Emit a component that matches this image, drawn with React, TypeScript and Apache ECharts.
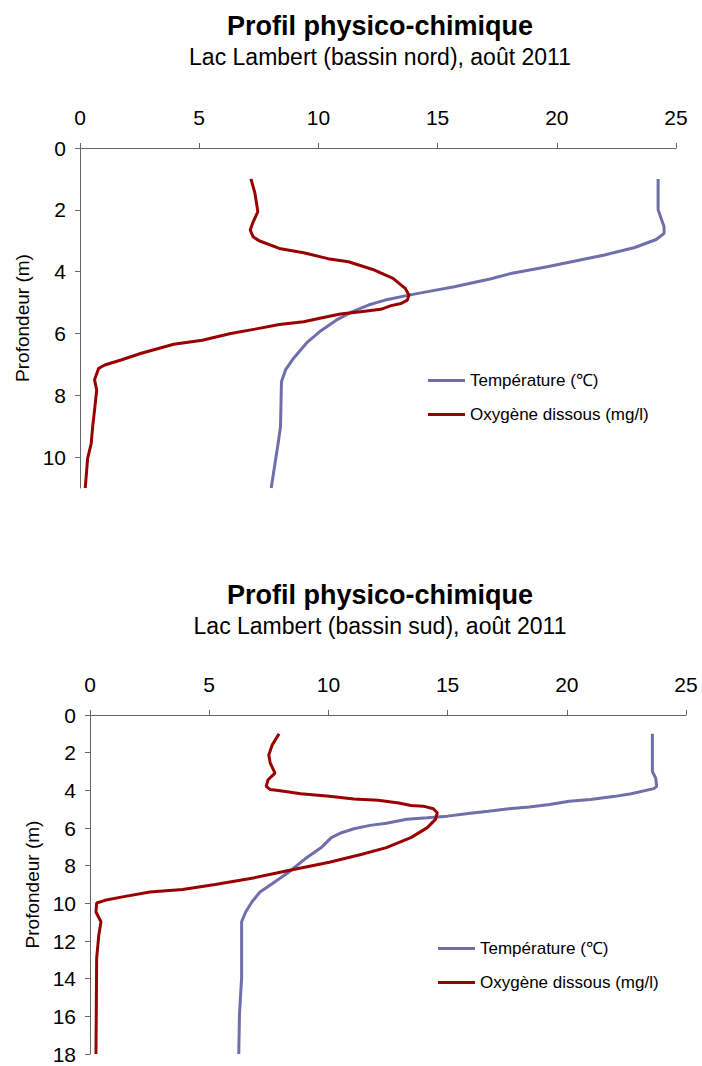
import React, { useEffect, useRef } from "react";
import * as echarts from "echarts";

const TEMP_NAME = "Température (℃)";
const OXY_NAME = "Oxygène dissous (mg/l)";
const xTicks = [0, 5, 10, 15, 20, 25];

// Bassin nord: [value, depth (m)]
const nordTemp: [number, number][] = [
  [24.25, 1.0], [24.25, 2.0], [24.5, 2.55], [24.5, 2.76], [24.17, 2.96], [23.27, 3.22],
  [22.0, 3.46], [19.6, 3.84], [18.07, 4.06], [17.2, 4.24], [15.7, 4.49], [14.7, 4.63],
  [13.8, 4.76], [12.8, 4.92], [12.1, 5.08], [11.4, 5.3], [10.75, 5.57], [10.06, 5.94],
  [9.55, 6.27], [8.96, 6.8], [8.62, 7.18], [8.45, 7.56], [8.41, 9.02], [8.31, 9.56],
  [8.02, 11.0],
];
const nordOxy: [number, number][] = [
  [7.17, 1.0], [7.34, 1.47], [7.46, 2.06], [7.27, 2.38], [7.14, 2.65], [7.26, 2.87],
  [7.51, 3.0], [8.36, 3.25], [9.38, 3.39], [10.4, 3.58], [11.26, 3.68], [12.28, 3.93],
  [13.13, 4.22], [13.64, 4.54], [13.8, 4.76], [13.73, 4.92], [13.47, 5.03], [13.05, 5.1],
  [12.62, 5.22], [11.77, 5.3], [10.92, 5.37], [10.06, 5.51], [9.38, 5.62], [8.36, 5.71],
  [7.34, 5.86], [6.32, 6.0], [5.13, 6.22], [3.93, 6.35], [2.57, 6.64], [1.72, 6.86],
  [1.04, 7.02], [0.78, 7.13], [0.61, 7.5], [0.7, 7.83], [0.61, 8.48], [0.53, 9.02],
  [0.47, 9.56], [0.32, 10.04], [0.22, 11.0],
];

// Bassin sud: [value, depth (m)]
const sudTemp: [number, number][] = [
  [23.59, 1.0], [23.59, 3.0], [23.73, 3.35], [23.77, 3.79], [23.65, 3.91], [22.7, 4.18],
  [22.02, 4.32], [21.0, 4.49], [20.1, 4.58], [19.28, 4.75], [18.42, 4.88], [17.57, 4.98],
  [16.71, 5.11], [15.86, 5.23], [15.0, 5.37], [14.15, 5.46], [13.29, 5.54], [12.43, 5.75],
  [11.75, 5.86], [11.07, 6.04], [10.55, 6.25], [10.12, 6.51], [9.7, 7.04], [9.01, 7.65],
  [8.33, 8.35], [7.64, 8.96], [7.13, 9.4], [6.79, 9.93], [6.53, 10.46], [6.36, 10.98],
  [6.36, 13.96], [6.27, 15.9], [6.24, 18.0],
];
const sudOxy: [number, number][] = [
  [7.93, 1.0], [7.64, 1.6], [7.5, 2.12], [7.56, 2.56], [7.76, 3.09], [7.47, 3.44],
  [7.39, 3.79], [7.56, 3.96], [7.98, 4.02], [8.84, 4.18], [10.04, 4.32], [11.07, 4.46],
  [12.09, 4.53], [12.95, 4.67], [13.46, 4.81], [13.98, 4.84], [14.4, 4.98], [14.57, 5.19],
  [14.49, 5.54], [14.15, 5.98], [13.46, 6.51], [12.43, 7.04], [11.41, 7.39], [10.04, 7.82],
  [8.33, 8.26], [6.79, 8.67], [5.25, 9.0], [3.88, 9.26], [2.51, 9.4], [1.31, 9.67],
  [0.63, 9.84], [0.28, 9.98], [0.25, 10.46], [0.46, 10.98], [0.37, 11.68], [0.28, 12.91],
  [0.25, 18.0],
];
const nordDepthTicks = [0, 2, 4, 6, 8, 10];
const sudDepthTicks = [0, 2, 4, 6, 8, 10, 12, 14, 16, 18];

const FONT = "'Liberation Sans', Arial, Helvetica, sans-serif";
const AXIS_COLOR = "#666666";
const TEMP_COLOR = "#6F6FAA";
const OXY_COLOR = "#990000";

export default function App() {
  const ref = useRef<HTMLDivElement>(null);
  useEffect(() => {
    document.body.style.margin = "0";
    if (!ref.current) return;
    const chart = echarts.init(ref.current, null, { renderer: "svg" });

    const xAxisBase = (gridIndex: number) => ({
      type: "value",
      gridIndex,
      position: "top",
      min: 0,
      max: 25,
      interval: 5,
      splitLine: { show: false },
      axisLine: { show: true, lineStyle: { color: AXIS_COLOR, width: 1 } },
      axisTick: { show: true, length: 5, lineStyle: { color: AXIS_COLOR } },
      axisLabel: { color: "#000", fontSize: 21, fontFamily: FONT, margin: 20, customValues: xTicks },
    });
    const yAxisBase = (gridIndex: number, max: number, ticks: number[]) => ({
      type: "value",
      gridIndex,
      inverse: true,
      min: 0,
      max,
      interval: 2,
      name: "Profondeur (m)",
      nameLocation: "middle",
      nameGap: 47,
      nameTextStyle: { color: "#000", fontSize: 19, fontFamily: FONT },
      splitLine: { show: false },
      axisLine: { show: true, lineStyle: { color: AXIS_COLOR, width: 1 } },
      axisTick: { show: true, length: 5, lineStyle: { color: AXIS_COLOR }, customValues: ticks },
      axisLabel: { color: "#000", fontSize: 21, fontFamily: FONT, margin: 14, customValues: ticks },
    });

    const lineSeries = (name: string, data: [number, number][], idx: number, color: string, width: number) => ({
      type: "line",
      name,
      xAxisIndex: idx,
      yAxisIndex: idx,
      data,
      showSymbol: false,
      symbol: "none",
      lineStyle: { color, width },
      itemStyle: { color },
    });

    const titleCommon = {
      left: 380,
      textAlign: "center",
      itemGap: 6,
      padding: 0,
      textStyle: { color: "#000", fontSize: 27, fontWeight: "bold", fontFamily: FONT },
      subtextStyle: { color: "#000", fontSize: 23, fontFamily: FONT },
    };
    const legendCommon = {
      orient: "vertical",
      itemWidth: 37,
      itemHeight: 3,
      itemGap: 17,
      padding: 0,
      icon: "rect",
      textStyle: { color: "#000", fontSize: 17, fontFamily: FONT },
      data: [TEMP_NAME, OXY_NAME],
    };

    chart.setOption({
      animation: false,
      backgroundColor: "#ffffff",
      title: [
        { ...titleCommon, top: 12, text: "Profil physico-chimique", subtext: "Lac Lambert (bassin nord), août 2011" },
        { ...titleCommon, top: 581, text: "Profil physico-chimique", subtext: "Lac Lambert (bassin sud), août 2011" },
      ],
      legend: [
        { ...legendCommon, left: 428, top: 372 },
        { ...legendCommon, left: 438, top: 940 },
      ],
      grid: [
        { left: 80, right: 26, top: 148, height: 340 },
        { left: 90, right: 16, top: 715, height: 339 },
      ],
      xAxis: [xAxisBase(0), xAxisBase(1)],
      yAxis: [yAxisBase(0, 11, nordDepthTicks), yAxisBase(1, 18, sudDepthTicks)],
      series: [
        lineSeries(TEMP_NAME, nordTemp, 0, TEMP_COLOR, 3),
        lineSeries(OXY_NAME, nordOxy, 0, OXY_COLOR, 3),
        lineSeries(TEMP_NAME, sudTemp, 1, TEMP_COLOR, 3),
        lineSeries(OXY_NAME, sudOxy, 1, OXY_COLOR, 3),
      ],
    });
    return () => chart.dispose();
  }, []);
  return <div ref={ref} style={{ width: 702, height: 1066 }} />;
}
